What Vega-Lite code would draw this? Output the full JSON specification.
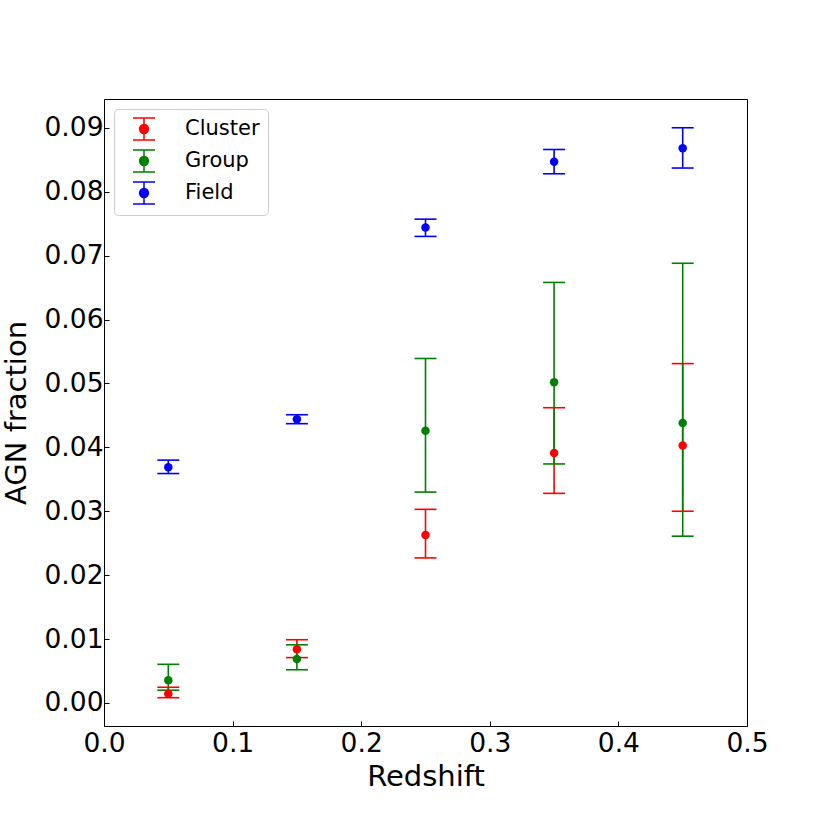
{
  "$schema": "https://vega.github.io/schema/vega-lite/v6.json",
  "width": 643,
  "height": 627,
  "autosize": {"type": "none"},
  "padding": {"left": 104, "top": 99, "right": 83, "bottom": 104},
  "background": "white",
  "config": {
    "font": "DejaVu Sans",
    "view": {"stroke": "black", "strokeWidth": 1},
    "axis": {
      "grid": false,
      "domain": false,
      "tickColor": "black",
      "tickSize": -5,
      "tickWidth": 1,
      "labelFontSize": 26.5,
      "labelColor": "black",
      "titleFontSize": 29,
      "titleFontWeight": "normal",
      "titleColor": "black",
      "labelFont": "DejaVu Sans",
      "titleFont": "DejaVu Sans"
    }
  },
  "data": {
    "values": [
      {"series": "Cluster", "z": 0.05, "y": 0.00146, "lo": 0.00083, "hi": 0.00246},
      {"series": "Cluster", "z": 0.15, "y": 0.0084, "lo": 0.0071, "hi": 0.0099},
      {"series": "Cluster", "z": 0.25, "y": 0.0263, "lo": 0.0227, "hi": 0.0303},
      {"series": "Cluster", "z": 0.35, "y": 0.0391, "lo": 0.0328, "hi": 0.0462},
      {"series": "Cluster", "z": 0.45, "y": 0.0403, "lo": 0.0300, "hi": 0.0531},
      {"series": "Group", "z": 0.05, "y": 0.00355, "lo": 0.0020, "hi": 0.00605},
      {"series": "Group", "z": 0.15, "y": 0.0069, "lo": 0.0052, "hi": 0.0091},
      {"series": "Group", "z": 0.25, "y": 0.0426, "lo": 0.0330, "hi": 0.0539},
      {"series": "Group", "z": 0.35, "y": 0.0502, "lo": 0.0374, "hi": 0.0658},
      {"series": "Group", "z": 0.45, "y": 0.0438, "lo": 0.0261, "hi": 0.0688},
      {"series": "Field", "z": 0.05, "y": 0.0369, "lo": 0.0359, "hi": 0.0380},
      {"series": "Field", "z": 0.15, "y": 0.0444, "lo": 0.0437, "hi": 0.0451},
      {"series": "Field", "z": 0.25, "y": 0.0744, "lo": 0.0730, "hi": 0.0757},
      {"series": "Field", "z": 0.35, "y": 0.0847, "lo": 0.0828, "hi": 0.0866},
      {"series": "Field", "z": 0.45, "y": 0.0868, "lo": 0.0837, "hi": 0.0900}
    ]
  },
  "encoding": {
    "x": {
      "field": "z", "type": "quantitative", "title": "Redshift",
      "scale": {"domain": [0, 0.5], "nice": false, "zero": false},
      "axis": {"values": [0, 0.1, 0.2, 0.3, 0.4, 0.5], "format": ".1f", "labelPadding": 9, "titlePadding": 6, "labelFlush": false}
    },
    "color": {
      "field": "series", "type": "nominal",
      "scale": {"domain": ["Cluster", "Group", "Field"], "range": ["#ff0000", "#008000", "#0000ff"]},
      "legend": {
        "title": null,
        "orient": "top-left",
        "offset": 10,
        "padding": 8,
        "strokeColor": "#cccccc",
        "fillColor": "white",
        "cornerRadius": 4,
        "labelFontSize": 21,
        "labelColor": "black",
        "labelFont": "DejaVu Sans",
        "labelOffset": 29,
        "symbolOffset": 10,
        "symbolSize": 484,
        "symbolStrokeWidth": 1.5,
        "symbolType": "M-1,-1H1M0,-1V1M-1,1H1M-0.4,0A0.4,0.4 0 1 0 0.4,0A0.4,0.4 0 1 0 -0.4,0Z",
        "rowPadding": 4,
        "encode": {
          "symbols": {"update": {"stroke": {"scale": "color", "field": "value"}, "fill": {"scale": "color", "field": "value"}, "opacity": {"value": 1}}}
        }
      }
    }
  },
  "layer": [
    {
      "mark": {"type": "rule", "strokeWidth": 1.6},
      "encoding": {
        "y": {
          "field": "lo", "type": "quantitative", "title": "AGN fraction",
          "scale": {"domain": [-0.0036, 0.0945], "nice": false, "zero": false},
          "axis": {"values": [0, 0.01, 0.02, 0.03, 0.04, 0.05, 0.06, 0.07, 0.08, 0.09], "format": ".2f", "labelPadding": 6, "titlePadding": 12}
        },
        "y2": {"field": "hi"}
      }
    },
    {
      "mark": {"type": "tick", "orient": "horizontal", "size": 22, "thickness": 1.6, "opacity": 1},
      "encoding": {"y": {"field": "lo", "type": "quantitative"}}
    },
    {
      "mark": {"type": "tick", "orient": "horizontal", "size": 22, "thickness": 1.6, "opacity": 1},
      "encoding": {"y": {"field": "hi", "type": "quantitative"}}
    },
    {
      "mark": {"type": "point", "filled": true, "shape": "circle", "size": 72, "opacity": 1},
      "encoding": {"y": {"field": "y", "type": "quantitative"}}
    }
  ]
}
